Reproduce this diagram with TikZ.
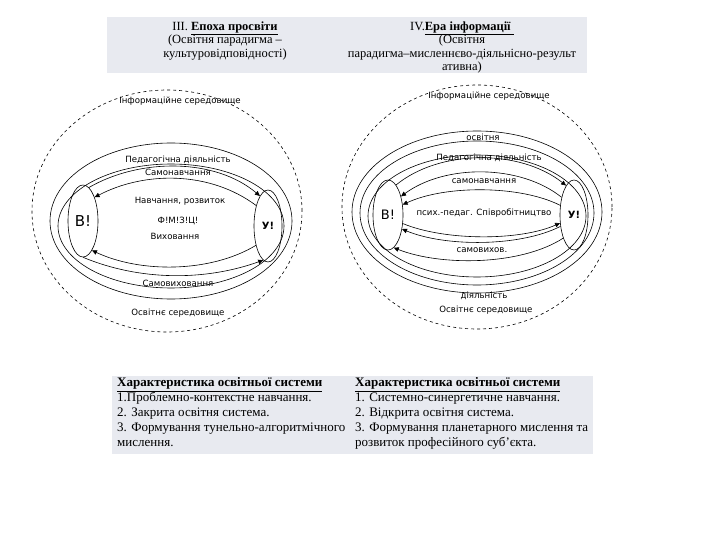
\documentclass[tikz,border=0pt]{standalone}
\usepackage{fontspec}
\setmainfont{Liberation Serif}
\newfontfamily\dgfont{DejaVu Sans}
\usepackage{xcolor}
\usetikzlibrary{arrows.meta, positioning, shapes.geometric}
\definecolor{bandgray}{HTML}{E8EAF0}

\begin{document}
\begin{tikzpicture}[
    x=1pt, y=-1pt,
    band/.style={fill=bandgray, draw=none, inner sep=0pt, anchor=north west},
    cell/.style={align=center, font=\fontsize{12.5}{13.5}\selectfont, inner sep=0pt, anchor=north},
    rowtext/.style={align=left, font=\fontsize{13}{15}\selectfont, inner sep=0pt, anchor=north west},
    ring/.style={draw, line width=0.6pt},
    env/.style={draw, dashed, line width=0.6pt},
    pole/.style={draw, ellipse, line width=0.6pt, inner sep=0pt},
    arrow/.style={-{Triangle[length=5pt, width=4.5pt]}, line width=0.6pt},
    lbl/.style={font=\dgfont\fontsize{8.6}{9}\selectfont, inner sep=0pt}
]
    \useasboundingbox (0,0) rectangle (720,540);

    % headings
    \node[band, minimum width=480pt, minimum height=56pt] (headband) at (107,17) {};
    \node[cell] (era3) at (225,21.5) {III. \textbf{\underline{Епоха просвіти}}\\(Освітня парадигма –\\культуровідповідності)};
    \node[cell] (era4) at (462,21.5) {IV.\textbf{\underline{Ера інформації\ }}\\(Освітня\\парадигма–мисленнєво-діяльнісно-результ\\ативна)};

    % left scheme
    \draw[env] (167,211) ellipse [x radius=135pt, y radius=121pt];
    \draw[ring] (171,221) ellipse [x radius=121pt, y radius=78pt];
    \draw[ring] (171,226) ellipse [x radius=113pt, y radius=62pt];
    \node[pole, minimum width=30pt, minimum height=72pt, font=\dgfont\fontsize{15}{15}\selectfont] (vl) at (83,221) {В!};
    \node[pole, minimum width=28pt, minimum height=72pt, font=\dgfont\bfseries\fontsize{10}{10}\selectfont] (ul) at (268,226) {У!};

    \draw[arrow] (vl.80) .. controls (140,158) and (215,158) .. (ul.105);
    \draw[arrow] (ul.120) .. controls (210,171) and (145,171) .. (vl.64);
    \draw[arrow] (ul.238) .. controls (210,273) and (140,273) .. (vl.287);
    \draw[arrow] (vl.270) .. controls (140,281) and (205,281) .. (ul.262);

    \node[lbl] (infl) at (180,101) {Інформаційне середовище};
    \node[lbl] (pedl) at (178,160) {Педагогічна діяльність};
    \node[lbl] (snl) at (178,172) {Самонавчання};
    \node[lbl] (nrl) at (180,201) {Навчання, розвиток};
    \node[lbl] (fmzc) at (178,221) {Ф!М!З!Ц!};
    \node[lbl] (vykh) at (175,236) {Виховання};
    \node[lbl] (svl) at (178,283) {Самовиховання};
    \node[lbl] (osl) at (178,313) {Освітнє середовище};

    % right scheme
    \draw[env] (477,207) ellipse [x radius=135pt, y radius=122pt];
    \draw[ring] (477,212) ellipse [x radius=125pt, y radius=81pt];
    \draw[ring] (477,213) ellipse [x radius=117pt, y radius=72pt];
    \draw[ring] (477,216) ellipse [x radius=109pt, y radius=61pt];
    \node[pole, minimum width=30pt, minimum height=70pt, font=\dgfont\fontsize{13}{13}\selectfont] (vr) at (388,215) {В!};
    \node[pole, minimum width=28pt, minimum height=70pt, font=\dgfont\bfseries\fontsize{10}{10}\selectfont] (ur) at (574,215) {У!};

    \draw[arrow] (vr.75) .. controls (440,149) and (520,149) .. (ur.105);
    \draw[arrow] (ur.125) .. controls (520,164) and (445,164) .. (vr.55);
    \draw[arrow] (ur.145) .. controls (520,185) and (445,185) .. (vr.35);
    \draw[arrow] (vr.-30) .. controls (445,241) and (520,241) .. (ur.-150);
    \draw[arrow] (ur.-140) .. controls (520,247) and (445,247) .. (vr.-45);
    \draw[arrow] (ur.-115) .. controls (520,266) and (440,266) .. (vr.-80);

    \node[lbl] (infr) at (489,96) {Інформаційне середовище};
    \node[lbl] (osvr) at (483,137) {освітня};
    \node[lbl] (pedr) at (489,158) {Педагогічна діяльність};
    \node[lbl] (snr) at (484,181) {самонавчання};
    \node[lbl] (psr) at (484,213) {псих.-педаг. Співробітництво};
    \node[lbl] (svr) at (482,250) {самовихов.};
    \node[lbl] (dialr) at (484,296) {діяльність};
    \node[lbl] (osr) at (486,310) {Освітнє середовище};

    % characteristics
    \node[band, minimum width=481pt, minimum height=78pt] (charband) at (112,376) {};
    \node[rowtext] (char3) at (117,377.5) {\textbf{\underline{Характеристика освітньої системи}}\\1.Проблемно-контекстне навчання.\\2. Закрита освітня система.\\3. Формування тунельно-алгоритмічного\\мислення.};
    \node[rowtext] (char4) at (355,377.5) {\textbf{\underline{Характеристика освітньої системи}}\\1. Системно-синергетичне навчання.\\2. Відкрита освітня система.\\3. Формування планетарного мислення та\\розвиток професійного суб'єкта.};
\end{tikzpicture}
\end{document}
